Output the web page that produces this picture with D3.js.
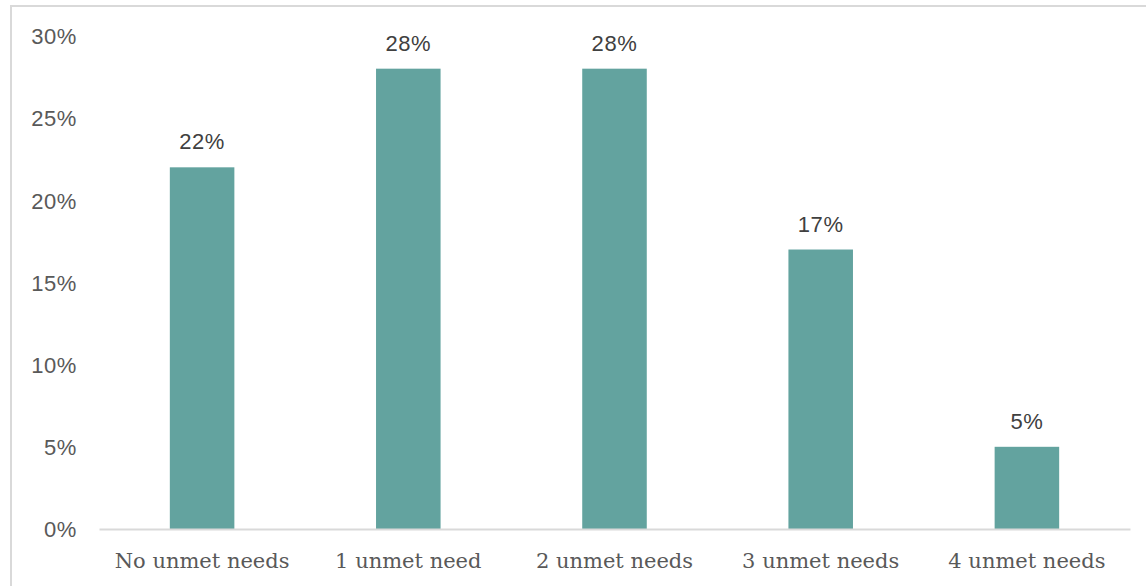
<!DOCTYPE html>
<html>
<head>
<meta charset="utf-8">
<script src="https://cdn.jsdelivr.net/npm/d3@7"></script>
<style>
  html, body { margin: 0; padding: 0; background: #ffffff; }
  svg { display: block; }
</style>
</head>
<body>
<svg id="chart" width="1146" height="586"></svg>
<script>
// Share of respondents by number of unmet needs
const categories = ["No unmet needs", "1 unmet need", "2 unmet needs", "3 unmet needs", "4 unmet needs"];
const values = [22, 28, 28, 17, 5];
const yTicks = [0, 5, 10, 15, 20, 25, 30];

const W = 1146, H = 586;
const plot = { left: 99, right: 1130, top: 35.8, bottom: 529 };

const svg = d3.select("#chart");

// Chart frame
svg.append("rect")
  .attr("x", 11).attr("y", 6)
  .attr("width", W + 20).attr("height", H + 20)
  .attr("fill", "none")
  .attr("stroke", "#d9d9d9")
  .attr("stroke-width", 2);

const x = d3.scaleBand()
  .domain(categories)
  .range([plot.left, plot.right])
  .paddingInner(0.687)
  .paddingOuter(0.3435);

const y = d3.scaleLinear()
  .domain([0, 30])
  .range([plot.bottom, plot.top]);

// Y axis labels (no line, no ticks)
const yAxis = d3.axisLeft(y)
  .tickValues(yTicks)
  .tickFormat(d => d + "%")
  .tickSize(0)
  .tickPadding(0);

const yg = svg.append("g")
  .attr("transform", `translate(77,0)`)
  .call(yAxis);
yg.select(".domain").remove();
yg.selectAll("text")
  .attr("fill", "#595959")
  .style("font-family", "'Liberation Sans', Arial, sans-serif")
  .style("font-size", "22px")
  .style("letter-spacing", "0.6px")
  .attr("dy", "0.36em");

// Bars
svg.append("g").selectAll("rect")
  .data(values)
  .join("rect")
  .attr("x", (d, i) => x(categories[i]))
  .attr("y", d => y(d))
  .attr("width", x.bandwidth())
  .attr("height", d => y(0) - y(d))
  .attr("fill", "#63a39f");

// Category axis
const xAxis = d3.axisBottom(x).tickSize(0).tickPadding(0);
const xg = svg.append("g")
  .attr("transform", `translate(0,${plot.bottom})`)
  .call(xAxis);
xg.select(".domain")
  .attr("stroke", "#d9d9d9")
  .attr("stroke-width", 2);
xg.selectAll("text")
  .attr("fill", "#595959")
  .attr("y", 39)
  .attr("dy", 0)
  .style("font-family", "'DejaVu Serif', serif")
  .style("font-size", "21px");

// Value labels
svg.append("g").selectAll("text")
  .data(values)
  .join("text")
  .attr("x", (d, i) => x(categories[i]) + x.bandwidth() / 2)
  .attr("y", d => y(d) - 18)
  .attr("text-anchor", "middle")
  .attr("fill", "#404040")
  .style("font-family", "'Liberation Sans', Arial, sans-serif")
  .style("font-size", "22px")
  .style("letter-spacing", "0.6px")
  .text(d => d + "%");
</script>
</body>
</html>
